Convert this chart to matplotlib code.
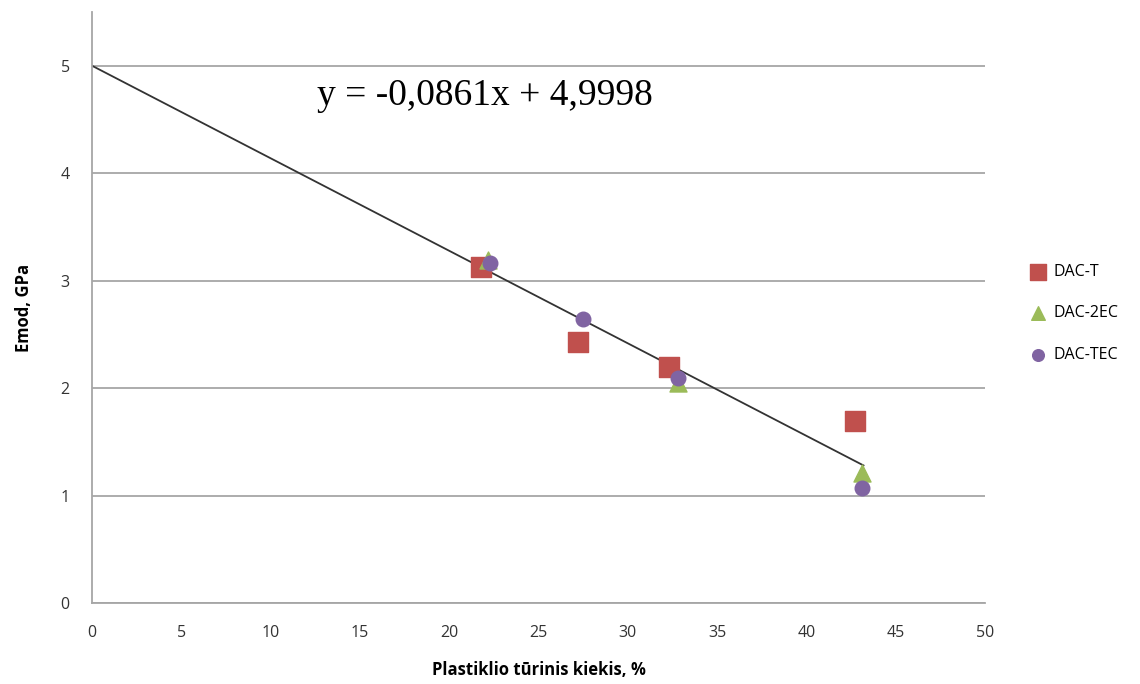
import numpy as np
import matplotlib.pyplot as plt

# data
t_x = [21.8, 27.2, 32.3, 42.7]
t_y = [3.13, 2.43, 2.20, 1.69]
ec2_x = [22.2, 32.8, 43.1]
ec2_y = [3.19, 2.05, 1.21]
tec_x = [22.3, 27.5, 32.8, 43.1]
tec_y = [3.16, 2.64, 2.09, 1.07]
slope, intercept = -0.0861, 4.9998
fit_end = 43.2

plt.rcParams['font.family'] = ['Open Sans', 'DejaVu Sans']

fig = plt.figure(figsize=(11.4, 6.84), dpi=100)
ax = fig.add_axes([0.0807, 0.1184, 0.7833, 0.8641])

ax.set_xlim(0, 50)
ax.set_ylim(0, 5.5)
ax.set_xticks(np.arange(0, 51, 5))
ax.set_yticks(np.arange(0, 6, 1))
ax.grid(axis='y', color='#a6a6a6', linewidth=1.3)
ax.set_axisbelow(True)
for s in ['top', 'right']:
    ax.spines[s].set_visible(False)
for s in ['left', 'bottom']:
    ax.spines[s].set_color('#a6a6a6')
    ax.spines[s].set_linewidth(1.3)
ax.tick_params(length=0, labelsize=11.5, colors='#333333', pad=16)

xs = np.array([0, fit_end])
ax.plot(xs, slope * xs + intercept, color='#333333', linewidth=1.3, zorder=2)

ax.scatter(t_x, t_y, marker='s', s=200, color='#c0504d', label='DAC-T', zorder=3)
ax.scatter(ec2_x, ec2_y, marker='^', s=150, color='#9bbb59', label='DAC-2EC', zorder=4)
ax.scatter(tec_x, tec_y, marker='o', s=110, color='#8064a2', label='DAC-TEC', zorder=5)

ax.text(12.6, 4.72, 'y = -0,0861x + 4,9998', family='Liberation Serif', fontsize=27,
        va='center', ha='left', color='black')

ax.set_xlabel('Plastiklio tūrinis kiekis, %', fontsize=12, fontweight='bold', labelpad=14)
ax.set_ylabel('Emod, GPa', fontsize=12, fontweight='bold', labelpad=20)

ax.legend(loc='center left', bbox_to_anchor=(1.025, 0.49), frameon=False, fontsize=11.5,
          handletextpad=0.0, labelspacing=1.6, markerscale=0.8)

fig.savefig('out.png', dpi=100)
